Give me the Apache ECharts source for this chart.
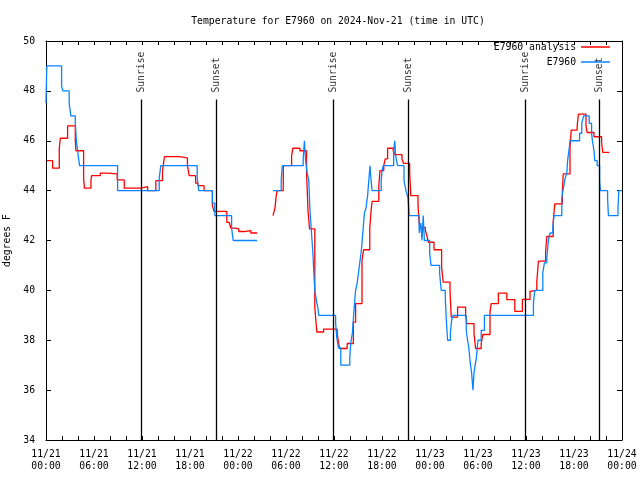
<!DOCTYPE html>
<html>
<head>
<meta charset="utf-8">
<script src="https://cdn.jsdelivr.net/npm/echarts@6/dist/echarts.min.js"></script>
<style>html,body{margin:0;padding:0;background:#fff}#c{width:640px;height:480px}</style>
</head>
<body>
<div id="c"></div>
<script>
// hours since 2024-11-21 00:00 UTC; null = gap in data
const obsTimes = [0, 0.1, 1.95, 2.1, 2.9, 3.1, 3.66, 3.8, 3.95, 4.2, 8.95, 14.15, 14.35, 18.9, 19.1, 20.8, 21.1, 23.2, 23.4, 26.4, 26.45,
  28.37, 29.4, 29.53, 32.15, 32.3, 32.45, 32.65, 32.85, 32.98, 33.15, 33.36, 33.48, 33.6, 33.8, 33.98, 34.1,
  36.2, 36.35, 36.55, 36.85, 37.97, 38.1, 38.3, 38.5, 38.7, 38.9, 39.1, 39.3, 39.45, 39.65, 39.8, 40.0, 40.2, 40.35, 40.5, 40.64, 40.76,
  41.9, 42.0, 42.15, 43.46, 43.6, 43.7, 43.95, 44.75, 45.0, 45.25, 45.4,
  46.65, 46.85, 47.0, 47.15, 47.3, 47.96, 48.13, 49.2, 49.4, 49.91, 50.04, 50.2, 50.55, 50.7, 50.9,
  52.53, 52.7, 52.85, 53.03, 53.2, 53.37, 53.5, 53.65, 53.8, 54.0, 54.4, 54.8,
  60.93, 61.1, 62.1, 62.3, 62.6, 62.8, 63.0, 63.35, 63.5, 64.47, 64.67, 64.9, 65.1, 65.2, 65.4, 65.5,
  66.7, 66.97, 67.2, 67.9, 68.2, 68.3, 68.5, 68.6, 68.9, 69.2, 69.3, 70.2, 70.3, 71.5, 71.6, 72];
const obsTemps = [47.5, 49, 48.2, 48, 47.5, 47, 46.7, 46, 45.6, 45, 44, 44.5, 45, 44.5, 44, 43.5, 43, 42.5, 42, 42, null,
  44, 44.4, 45, 45.3, 46, 45.2, 44.7, 44.4, 43.3, 42.5, 41.5, 40.7, 40, 39.6, 39.3, 39,
  38.7, 38.1, 37.7, 37, 37.3, 37.9, 38.3, 39.2, 40, 40.3, 40.8, 41.3, 41.7, 42.5, 43.1, 43.3, 43.8, 44.4, 45, 44.4, 44,
  44.4, 44.8, 45, 45.6, 46, 45.4, 45, 44.4, 44, 43.7, 43,
  42.3, 42.7, 42, 43, 42, 41.5, 41, 40.7, 40, 39.7, 38.8, 38, 38.3, 38.8, 39,
  38.4, 38, 37.7, 37.1, 36.7, 36, 36.7, 37, 37.3, 38, 38.4, 39,
  39.5, 40, 40.7, 41.1, 41.3, 42, 42.3, 42.5, 43, 43.7, 44.1, 44.5, 44.7, 45.2, 45.7, 46,
  46.3, 46.7, 47, 46.7, 46.3, 46, 45.6, 45.2, 45, 44.4, 44, 43.7, 43, 43.3, 44, 44];

const anaTimes = [0.1, 0.83, 1.66, 1.79, 2.7, 3.66, 3.74, 4.7, 4.8, 5.62, 5.7, 6.78, 7.7, 8.9, 9.78, 11.86, 12.7, 13.73, 14.56, 14.8,
  16.64, 17.68, 17.9, 18.7, 19.0, 19.76, 20.8, 21.0, 22.6, 22.9, 23.1, 23.63, 24.1, 24.75, 25.6, 26.4, 26.45,
  28.37, 28.62, 28.78, 28.9, 29.66, 30.7, 30.86, 31.74, 32.57, 32.75, 32.94, 33.6, 33.85, 34.7, 36.4, 36.55, 36.7, 37.65,
  38.42, 38.7, 39.5, 39.7, 40.47, 40.62, 40.76, 41.6, 41.75, 42.22, 42.4, 42.7, 43.4, 43.6, 44.5, 44.7,
  45.46, 45.6, 46.5, 46.6, 46.7, 47.42, 47.6, 47.8, 48.5, 49.45, 49.65, 50.5, 50.65, 51.45, 52.45, 52.6, 53.5, 53.7,
  54.4, 54.6, 55.5, 55.65, 56.55, 57.6, 58.6, 59.55, 60.5, 60.65, 61.35, 61.55, 62.45, 62.6, 63.4, 63.6,
  64.55, 64.65, 65.5, 65.65, 66.4, 66.55, 67.5, 67.65, 68.5, 69.45, 69.6, 70.42];
const anaTemps = [45.2, 44.9, 45.7, 46.1, 46.6, 46.0, 45.6, 44.5, 44.1, 44.4, 44.6, 44.7, 44.67, 44.43, 44.1, 44.16, 44.0, 44.4, 44.77, 45.36,
  45.31, 45.0, 44.6, 44.3, 44.2, 44.0, 43.4, 43.17, 42.73, 42.67, 42.5, 42.47, 42.36, 42.4, 42.3, 42.3, null,
  43.0, 43.3, 43.8, 44.0, 45.0, 45.4, 45.7, 45.6, 44.7, 43.2, 42.47, 39.33, 38.33, 38.45, 38.27, 37.93, 37.67, 37.87,
  38.73, 39.47, 41.2, 41.63, 42.5, 43.13, 43.57, 44.2, 44.8, 45.0, 45.27, 45.7, 45.6, 45.44, 45.27, 45.09,
  44.73, 43.8, 43.47, 42.87, 42.53, 42.4, 42.2, 41.93, 41.63, 40.93, 40.33, 40.0, 38.93, 39.33, 39.0, 38.67, 38.27, 37.67,
  37.87, 38.23, 39.13, 39.47, 39.89, 39.63, 39.16, 39.64, 39.96, 40.0, 40.33, 41.17, 41.53, 42.16, 42.77, 43.47,
  44.0, 44.67, 45.73, 46.43, 46.6, 47.07, 46.6, 46.33, 46.16, 45.93, 45.53, 45.53];

const eventTimes = [11.93, 21.3, 35.93, 45.3, 59.93, 69.17];
const eventLabels = ['Sunrise', 'Sunset', 'Sunrise', 'Sunset', 'Sunrise', 'Sunset'];

const xTickLabels = ['11/21\n00:00', '11/21\n06:00', '11/21\n12:00', '11/21\n18:00', '11/22\n00:00', '11/22\n06:00',
  '11/22\n12:00', '11/22\n18:00', '11/23\n00:00', '11/23\n06:00', '11/23\n12:00', '11/23\n18:00', '11/24\n00:00'];

const seriesNames = ['E7960 analysis', 'E7960'];
const titleText = 'Temperature for E7960 on 2024-Nov-21 (time in UTC)';
const yName = 'degrees F';

const FONT = 'DejaVu Sans Mono';
const FS = 9.75;
const zip = (ts, vs) => ts.map((t, i) => [t, vs[i] === null ? '-' : vs[i]]);

const chart = echarts.init(document.getElementById('c'), null, {renderer: 'canvas'});
const tickStyle = {show: true, inside: true, length: 4, lineStyle: {color: '#000', width: 1}};
const minorStyle = {show: true, splitNumber: 3, length: 4, lineStyle: {color: '#000', width: 1}};
const axisLineStyle = {show: true, onZero: false, lineStyle: {color: '#000', width: 1}};
const LINE_TOP = 47.65, LABEL_ANCHOR = 47.93;
const legendBase = {orient: 'vertical', align: 'right', padding: 0, icon: 'rect',
  itemWidth: 29, itemHeight: 1.5, itemGap: 0, textStyle: {fontFamily: FONT, fontSize: FS, color: '#000'}};

chart.setOption({
  animation: false,
  backgroundColor: '#fff',
  textStyle: {fontFamily: FONT, fontSize: FS, color: '#000'},
  title: {
    text: titleText, left: 333, top: 11, textAlign: 'center',
    textStyle: {fontFamily: FONT, fontSize: FS, fontWeight: 'normal', color: '#000'}
  },
  legend: [
    Object.assign({data: [seriesNames[0]], right: 30, top: 42}, legendBase),
    Object.assign({data: [seriesNames[1]], right: 30, top: 57}, legendBase)
  ],
  grid: {left: 46, right: 18, top: 41, bottom: 40, containLabel: false, outerBoundsMode: 'none'},
  xAxis: [
    {type: 'value', min: 0, max: 72, interval: 6, position: 'bottom',
     axisLine: axisLineStyle, axisTick: tickStyle, minorTick: minorStyle, splitLine: {show: false},
     axisLabel: {show: true, margin: 8, lineHeight: 12, fontFamily: FONT, fontSize: FS, color: '#000',
       formatter: v => xTickLabels[Math.round(v / 6)]}},
    {type: 'value', min: 0, max: 72, interval: 6, position: 'top',
     axisLine: axisLineStyle, axisTick: tickStyle, minorTick: minorStyle, splitLine: {show: false},
     axisLabel: {show: false}}
  ],
  yAxis: [
    {type: 'value', min: 34, max: 50, interval: 2, position: 'left',
     name: yName, nameLocation: 'middle', nameRotate: 90, nameGap: 27,
     nameTextStyle: {fontFamily: FONT, fontSize: FS, color: '#000'},
     axisLine: axisLineStyle, axisTick: Object.assign({}, tickStyle, {length: 5}), splitLine: {show: false},
     axisLabel: {margin: 11, fontFamily: FONT, fontSize: FS, color: '#000'}},
    {type: 'value', min: 34, max: 50, interval: 2, position: 'right',
     axisLine: axisLineStyle, axisTick: Object.assign({}, tickStyle, {length: 5}), splitLine: {show: false},
     axisLabel: {show: false}}
  ],
  series: [
    {name: 'events', type: 'line', data: [], silent: true,
     markLine: {silent: true, symbol: 'none', animation: false,
       lineStyle: {color: '#000', width: 1.3, type: 'solid'}, label: {show: false},
       data: eventTimes.map(t => [{coord: [t, 34]}, {coord: [t, LINE_TOP]}])}},
    {name: 'eventLabels', type: 'scatter', symbolSize: 0, silent: true,
     data: eventTimes.map((t, i) => ({value: [t, LABEL_ANCHOR], name: eventLabels[i]})),
     label: {show: true, position: 'inside', rotate: 90, align: 'left', verticalAlign: 'middle',
       formatter: p => p.name, fontFamily: FONT, fontSize: FS, color: '#000'}},
    {name: seriesNames[0], type: 'line', step: 'end', symbol: 'none', connectNulls: false,
     color: '#ff0000', lineStyle: {color: '#ff0000', width: 1.3},
     data: zip(anaTimes, anaTemps)},
    {name: seriesNames[1], type: 'line', step: 'end', symbol: 'none', connectNulls: false,
     color: '#0a84ff', lineStyle: {color: '#0a84ff', width: 1.3},
     data: zip(obsTimes, obsTemps)}
  ]
});
</script>
</body>
</html>
